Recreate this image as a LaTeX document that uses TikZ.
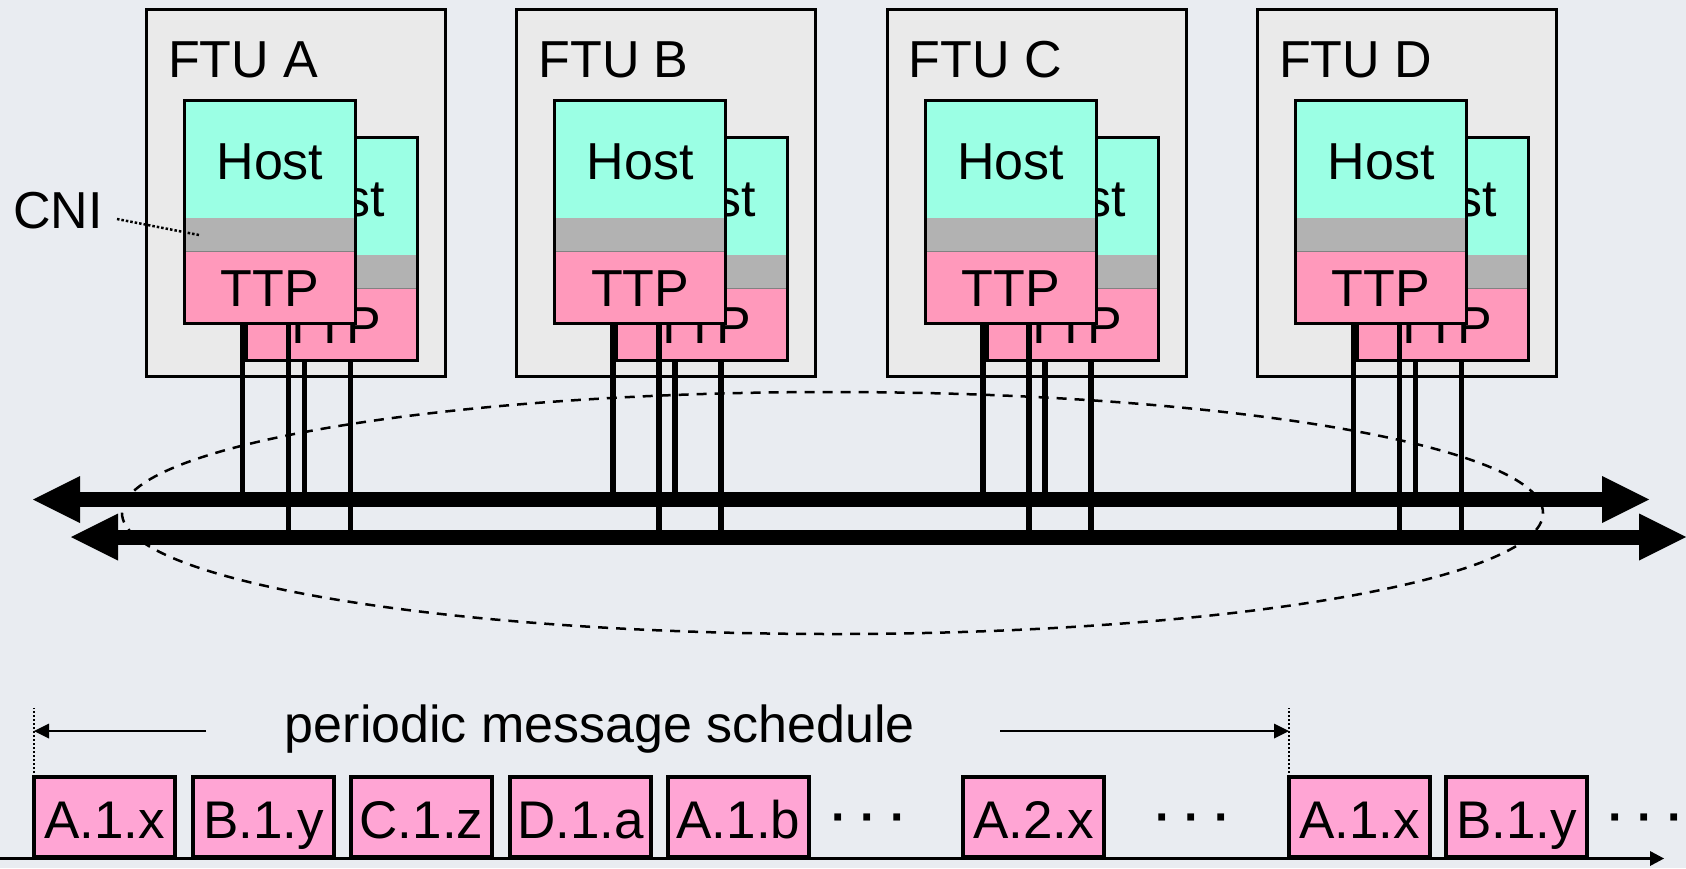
\documentclass[tikz,border=0pt]{standalone}
\usepackage{fontspec}
\setmainfont{Liberation Sans}
\usetikzlibrary{arrows.meta}
\definecolor{bgc}{RGB}{233,236,241}
\definecolor{ftufill}{RGB}{234,234,234}
\definecolor{hostc}{RGB}{155,255,228}
\definecolor{cnic}{RGB}{178,178,178}
\definecolor{ttpc}{RGB}{255,153,187}
\definecolor{slotc}{RGB}{255,165,212}
\definecolor{sepc}{RGB}{130,130,130}
\begin{document}
\begin{tikzpicture}[x=1pt,y=-1pt,
  bigfont/.style={font=\fontsize{52}{52}\selectfont},
  ftubox/.style={draw=black,line width=3pt,fill=ftufill,minimum width=299pt,minimum height=367pt,anchor=north west,inner sep=0pt,outer sep=0pt},
  ftulabel/.style={bigfont,anchor=base west,inner sep=0pt},
  hostsec/.style={bigfont,fill=hostc,minimum width=171pt,minimum height=117pt,inner sep=0pt,outer sep=0pt,anchor=north west,text height=40pt,text depth=0pt},
  cnisec/.style={fill=cnic,minimum width=171pt,minimum height=34pt,inner sep=0pt,outer sep=0pt,anchor=north},
  ttpsec/.style={bigfont,fill=ttpc,minimum width=171pt,minimum height=72pt,inner sep=0pt,outer sep=0pt,anchor=north,text height=38pt,text depth=0pt},
  sepline/.style={draw=sepc,line width=1pt},
  modborder/.style={draw=black,line width=3pt},
  drop/.style={draw=black,line width=5.5pt},
  bus/.style={draw=black,line width=15pt,{Triangle[length=47pt,width=47pt,line width=0pt]}-{Triangle[length=47pt,width=47pt,line width=0pt]}},
  cluster/.style={draw=black,line width=2.5pt,dash pattern=on 10pt off 8pt},
  cniline/.style={draw=black,line width=2.5pt,dash pattern=on 2.5pt off 2pt},
  slot/.style={font=\fontsize{53}{53}\selectfont,draw=black,line width=4pt,fill=slotc,minimum width=141pt,minimum height=80pt,anchor=north west,inner sep=0pt,outer sep=0pt,text height=42pt,text depth=0pt},
  axisline/.style={draw=black,line width=3.5pt,-{Triangle[length=14pt,width=15pt,line width=0pt]}},
  period/.style={draw=black,line width=2pt,-{Triangle[length=15pt,width=15pt,line width=0pt]}},
  marker/.style={draw=black,line width=2pt,dash pattern=on 2pt off 2pt},
  dots/.style={font=\fontsize{48}{48}\selectfont\bfseries,anchor=base,inner sep=0pt}
]
\useasboundingbox (0,0) rectangle (1686,868);
\fill[bgc] (0,0) rectangle (1686,868);

% FTUs
\foreach \L/\X in {A/145,B/515.3,C/885.6,D/1256}{
  \node[ftubox] (ftu\L) at (\X+1.5,9.5) {};
  \node[ftulabel] (lab\L) at (\X+23,77) {FTU \L};
  % back module
  \node[hostsec] (hb\L) at (\X+101.5,137.5) {Host};
  \node[cnisec] (cb\L) at (hb\L.south) {};
  \node[ttpsec] (tb\L) at (cb\L.south) {TTP};
  \draw[sepline] (tb\L.north west) -- (tb\L.north east);
  \draw[modborder] (hb\L.north west) rectangle (tb\L.south east);
  % front module
  \node[hostsec] (hf\L) at (\X+39.5,100.5) {Host};
  \node[cnisec] (cf\L) at (hf\L.south) {};
  \node[ttpsec] (tf\L) at (cf\L.south) {TTP};
  \draw[sepline] (tf\L.north west) -- (tf\L.north east);
  \draw[modborder] (hf\L.north west) rectangle (tf\L.south east);
}

% CNI label
\node[bigfont,anchor=base west,inner sep=0pt] (cni) at (13,228) {CNI};
\coordinate (cniS) at (117,219);
\coordinate (cniE) at (199,235);
\draw[cniline] (cniS) -- (cniE);

% cluster ellipse
\draw[cluster] (832.5,513) ellipse [x radius=710.5pt, y radius=121pt];

% bus coordinates
\coordinate (uL) at (33,499.5);
\coordinate (uR) at (1649,499.5);
\coordinate (lL) at (71,537);
\coordinate (lR) at (1686,537);

% drops
\foreach \L in {A,B,C,D}{
  \coordinate (fu\L) at ([xshift=58pt]tf\L.south west);
  \coordinate (fl\L) at ([xshift=104pt]tf\L.south west);
  \coordinate (bu\L) at ([xshift=58pt]tb\L.south west);
  \coordinate (bl\L) at ([xshift=104pt]tb\L.south west);
  \draw[drop] (fu\L) -- (fu\L |- uL);
  \draw[drop] (fl\L) -- (fl\L |- lL);
  \draw[drop] (bu\L) -- (bu\L |- uL);
  \draw[drop] (bl\L) -- (bl\L |- lL);
}

% buses
\draw[bus] (uL) -- (uR);
\draw[bus] (lL) -- (lR);

% schedule
\coordinate (axL) at (0,858.5);
\coordinate (axR) at (1664,858.5);
\draw[axisline] (axL) -- (axR);
\foreach \i/\X/\T in {1/34/A.1.x,2/193/B.1.y,3/351/C.1.z,4/510/D.1.a,5/668/A.1.b,6/963/A.2.x,7/1289/A.1.x,8/1446/B.1.y}{
  \node[slot] (s\i) at (\X,777) {\T};
}
\node[dots] (dots1) at (869,833) {· · ·};
\node[dots] (dots2) at (1193,833) {· · ·};
\node[dots] (dots3) at (1646,833) {· · ·};

\coordinate (m1) at ([yshift=69pt]s1.north west);
\coordinate (m2) at ([yshift=69pt]s7.north west);
\draw[marker] (s1.north west) -- (m1);
\draw[marker] (s7.north west) -- (m2);
\coordinate (pA) at (206,731);
\coordinate (pB) at (1000,731);
\draw[period] (pA) -- (pA -| s1.north west);
\draw[period] (pB) -- (pB -| s7.north west);
\node[bigfont,anchor=base,inner sep=0pt] (ptext) at (600,742) {periodic message schedule};
\end{tikzpicture}
\end{document}
